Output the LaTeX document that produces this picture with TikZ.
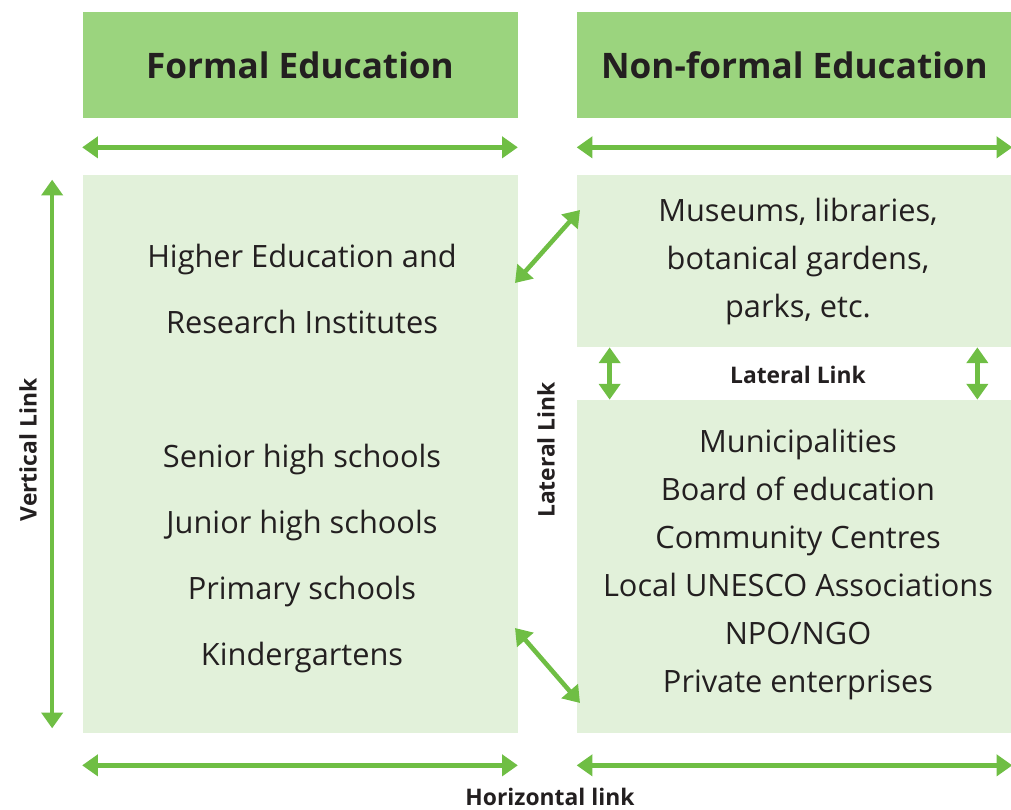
\documentclass[tikz,border=0pt]{standalone}
\usepackage{fontspec}
\setmainfont{Open Sans}
\usepackage{tikz}
\usetikzlibrary{arrows.meta}
\usetikzlibrary{positioning}
\definecolor{headgreen}{RGB}{155,212,126}
\definecolor{palegreen}{RGB}{226,241,218}
\definecolor{arrowgreen}{RGB}{111,190,68}
\definecolor{inkgrey}{RGB}{35,31,32}
\tikzstyle{head} = [fill=headgreen, text=inkgrey, minimum width=8.7cm, minimum height=2.12cm, text centered, font=\fontsize{20}{24}\selectfont\bfseries]
\tikzstyle{panel} = [fill=palegreen, minimum width=8.7cm]
\tikzstyle{item} = [text=inkgrey, font=\fontsize{17.5}{20}\selectfont, text height=1.6ex, text depth=0.4ex]
\tikzstyle{linklabel} = [text=inkgrey, font=\fontsize{13}{15}\selectfont\bfseries]
\tikzstyle{arrow} = [line width=2.6pt, arrowgreen, {Triangle[length=9pt,width=12pt]}-{Triangle[length=9pt,width=12pt]}]

\begin{document}
\begin{tikzpicture}
                    \useasboundingbox (0,0) rectangle (20.22,-16.2);
                    \node (fhead) [head] at (6.0,-1.3) {Formal Education};
                    \node (nhead) [head] at (15.89,-1.3) {Non-formal Education};
                    \node (fbody) [panel, minimum height=11.16cm] at (6.0,-9.08) {};
                    \node (ntop) [panel, minimum height=3.44cm] at (15.89,-5.22) {};
                    \node (nbot) [panel, minimum height=6.66cm] at (15.89,-11.33) {};
                    % formal education
                    \begin{scope}[node distance=1.32cm]
                    \node (higher) [item] at (6.04,-5.24) {Higher Education and};
                    \node (research) [item, below of=higher] {Research Institutes};
                    \node (senior) [item] at (6.04,-9.24) {Senior high schools};
                    \node (junior) [item, below of=senior] {Junior high schools};
                    \node (primary) [item, below of=junior] {Primary schools};
                    \node (kinder) [item, below of=primary] {Kindergartens};
                    \end{scope}
                    % non-formal education
                    \begin{scope}[node distance=0.96cm]
                    \node (museums) [item] at (15.96,-4.32) {Museums, libraries,};
                    \node (gardens) [item, below of=museums] {botanical gardens,};
                    \node (parks) [item, below of=gardens] {parks, etc.};
                    \node (munic) [item] at (15.96,-8.94) {Municipalities};
                    \node (board) [item, below of=munic] {Board of education};
                    \node (centres) [item, below of=board] {Community Centres};
                    \node (unesco) [item, below of=centres] {Local UNESCO Associations};
                    \node (ngo) [item, below of=unesco] {NPO/NGO};
                    \node (private) [item, below of=ngo] {Private enterprises};
                    \end{scope}
                    % link labels
                    \node (vlink) [linklabel, rotate=90] at (0.56,-9.0) {Vertical Link};
                    \node (llinkv) [linklabel, rotate=90] at (10.92,-9.0) {Lateral Link};
                    \node (llinkh) [linklabel] at (15.96,-7.5) {Lateral Link};
                    \node (hlink) [linklabel] at (11.0,-15.94) {Horizontal link};
                    \coordinate (d1a) at (10.3,-5.66);
                    \coordinate (d1b) at (11.6,-4.2);
                    \coordinate (d2a) at (10.3,-12.56);
                    \coordinate (d2b) at (11.6,-14.06);
                    \draw [arrow] ([yshift=-0.58cm]fhead.south west) -- ([yshift=-0.58cm]fhead.south east);
                    \draw [arrow] ([yshift=-0.58cm]nhead.south west) -- ([yshift=-0.58cm]nhead.south east);
                    \draw [arrow] ([yshift=-0.64cm]fbody.south west) -- ([yshift=-0.64cm]fbody.south east);
                    \draw [arrow] ([yshift=-0.64cm]nbot.south west) -- ([yshift=-0.64cm]nbot.south east);
                    \draw [arrow] ([xshift=-0.6cm,yshift=-0.1cm]fbody.north west) -- ([xshift=-0.6cm,yshift=0.1cm]fbody.south west);
                    \draw [arrow] ([xshift=0.66cm]ntop.south west) -- ([xshift=0.66cm]nbot.north west);
                    \draw [arrow] ([xshift=-0.7cm]ntop.south east) -- ([xshift=-0.7cm]nbot.north east);
                    \draw [arrow] (d1a) -- (d1b);
                    \draw [arrow] (d2a) -- (d2b);
\end{tikzpicture}
\end{document}
